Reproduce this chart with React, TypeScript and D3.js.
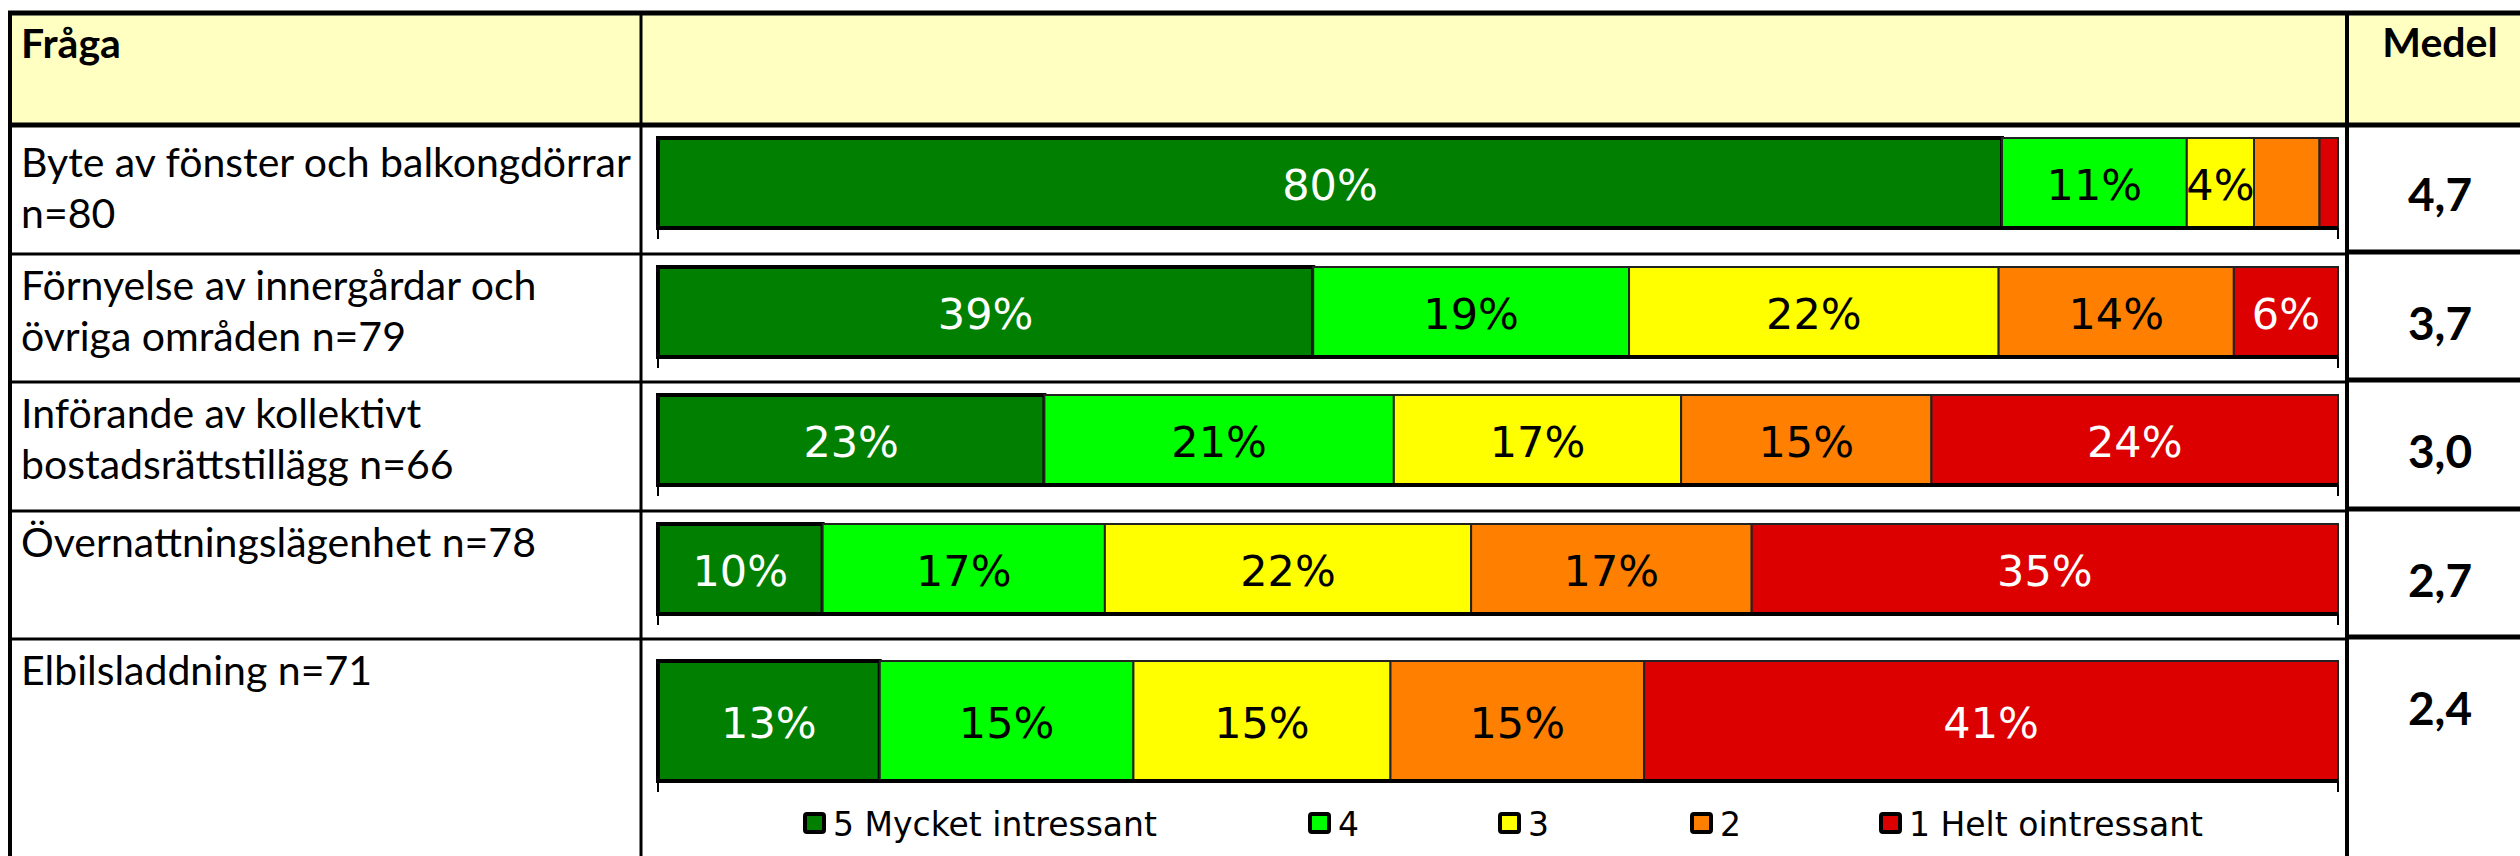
import React, { useEffect, useRef } from "react";
import * as d3 from "d3";

// questions (two text lines each) and the mean score
const questions = [
  ["Byte av fönster och balkongdörrar", "n=80"],
  ["Förnyelse av innergårdar och", "övriga områden n=79"],
  ["Införande av kollektivt", "bostadsrättstillägg n=66"],
  ["Övernattningslägenhet n=78", ""],
  ["Elbilsladdning n=71", ""],
];
const medel = [4.7, 3.7, 3.0, 2.7, 2.4];

const categories = ["5 Mycket intressant", "4", "3", "2", "1 Helt ointressant"];
const colors = ["#007f00", "#00ff00", "#ffff00", "#ff8000", "#dd0000"];
const labelColors = ["#ffffff", "#000000", "#000000", "#000000", "#ffffff"];

// percent per answer, one array per question (5 ... 1)
const row1 = [80.0, 11.0, 4.0, 3.9, 1.1];
const row2 = [39.0, 18.8, 22.0, 14.0, 6.2];
const row3 = [23.0, 20.8, 17.1, 14.9, 24.2];
const row4 = [9.8, 16.8, 21.8, 16.7, 34.9];
const row5 = [13.2, 15.1, 15.3, 15.1, 41.3];
const rows = [row1, row2, row3, row4, row5];
// labels that are not printed in the original (row, category)
const hiddenLabels = [[0, 3], [0, 4]];

const W = 2520, H = 856;

export default function App() {
  const ref = useRef<SVGSVGElement>(null);

  useEffect(() => {
    const svg = d3.select(ref.current);
    svg.selectAll("*").remove();

    const left = 10, colA = 641, colB = 2347, right = 2540, top = 13;
    const rowTops = [125, 254, 382, 511, 639];
    const headerBottom = 125;

    // header fill
    svg.append("rect").attr("x", left).attr("y", top).attr("width", right - left).attr("height", headerBottom - top)
      .attr("fill", "#ffffc2");

    const x = d3.scaleLinear().domain([0, 100]).range([658, 2338]);
    const stack = d3.stack<number[]>().keys(categories.map((c, i) => String(i))).value((d, k) => d[+k]);
    const series = stack(rows);

    const g = svg.append("g");
    rows.forEach((r, i) => {
      const rt = rowTops[i];
      const last = i == rows.length - 1;
      const y0 = last ? rt + 22 : rt + 13;
      const bh = last ? 120 : 90;

      series.forEach((s, k) => {
        const seg = s[i];
        g.append("rect")
          .attr("x", x(seg[0])).attr("y", y0)
          .attr("width", x(seg[1]) - x(seg[0])).attr("height", bh)
          .attr("fill", colors[k])
          .attr("stroke", k == 0 ? "#000" : "#222")
          .attr("stroke-width", k == 0 ? 4 : 2);
      });
      series.forEach((s, k) => {
        const seg = s[i];
        if (hiddenLabels.some(h => h[0] == i && h[1] == k)) return;
        g.append("text")
          .attr("x", (x(seg[0]) + x(seg[1])) / 2).attr("y", y0 + bh / 2 + 17)
          .attr("text-anchor", "middle")
          .style("font-family", "'DejaVu Sans', Verdana, sans-serif").style("font-size", "43px")
          .attr("fill", labelColors[k])
          .text(Math.round(r[k]) + "%");
      });
      // axis line + end ticks
      g.append("line").attr("x1", x(0)).attr("x2", x(100)).attr("y1", y0 + bh).attr("y2", y0 + bh)
        .attr("stroke", "#000").attr("stroke-width", 4);
      [0, 100].forEach(v => {
        g.append("line").attr("x1", x(v)).attr("x2", x(v)).attr("y1", y0 + bh).attr("y2", y0 + bh + 11)
          .attr("stroke", "#000").attr("stroke-width", 2);
      });

      // question text
      const base = i == 0 ? rt + 52 : rt + 46;
      questions[i].forEach((t, li) => {
        if (!t) return;
        svg.append("text").attr("x", 21).attr("y", base + li * 51)
          .style("font-family", "Lato, 'Open Sans', sans-serif").style("font-size", "41px")
          .attr("fill", "#000").text(t);
      });
      // medel
      svg.append("text").attr("x", 2440).attr("y", rt + 86)
        .attr("text-anchor", "middle")
        .style("font-family", "Lato, 'Open Sans', sans-serif").style("font-size", "46px").style("font-weight", "bold")
        .text(d3.format(".1f")(medel[i]).replace(".", ","));
    });

    // header texts
    svg.append("text").attr("x", 21).attr("y", 58)
      .style("font-family", "Lato, 'Open Sans', sans-serif").style("font-size", "41px").style("font-weight", "bold")
      .text("Fråga");
    svg.append("text").attr("x", 2440).attr("y", 57).attr("text-anchor", "middle")
      .style("font-family", "Lato, 'Open Sans', sans-serif").style("font-size", "41px").style("font-weight", "bold")
      .text("Medel");

    // legend
    const legX = [803, 1308, 1498, 1690, 1879];
    const leg = svg.append("g");
    categories.forEach((c, k) => {
      leg.append("rect").attr("x", legX[k] + 2).attr("y", 814).attr("width", 19).attr("height", 18)
        .attr("fill", colors[k]).attr("stroke", "#000").attr("stroke-width", 4).attr("rx", 2);
      leg.append("text").attr("x", legX[k] + 30).attr("y", 836)
        .style("font-family", "'DejaVu Sans', Verdana, sans-serif").style("font-size", "33px")
        .text(c);
    });

    // grid lines
    const lines = svg.append("g").attr("stroke", "#000");
    lines.append("line").attr("x1", left - 2).attr("x2", right).attr("y1", top).attr("y2", top).attr("stroke-width", 5);
    lines.append("line").attr("x1", left).attr("x2", left).attr("y1", top).attr("y2", H).attr("stroke-width", 4);
    lines.append("line").attr("x1", left).attr("x2", right).attr("y1", headerBottom).attr("y2", headerBottom).attr("stroke-width", 5);
    lines.append("line").attr("x1", colA).attr("x2", colA).attr("y1", top).attr("y2", H).attr("stroke-width", 3);
    lines.append("line").attr("x1", colB).attr("x2", colB).attr("y1", top).attr("y2", H).attr("stroke-width", 4);
    rowTops.slice(1).forEach(y => {
      lines.append("line").attr("x1", left).attr("x2", colB).attr("y1", y).attr("y2", y).attr("stroke-width", 3);
      lines.append("line").attr("x1", colB).attr("x2", right).attr("y1", y - 2).attr("y2", y - 2).attr("stroke-width", 5);
    });
  }, []);

  return (
    <div style={{ position: "absolute", left: 0, top: 0 }}>
      <svg ref={ref} width={W} height={H} style={{ display: "block", background: "#fff" }} />
    </div>
  );
}
